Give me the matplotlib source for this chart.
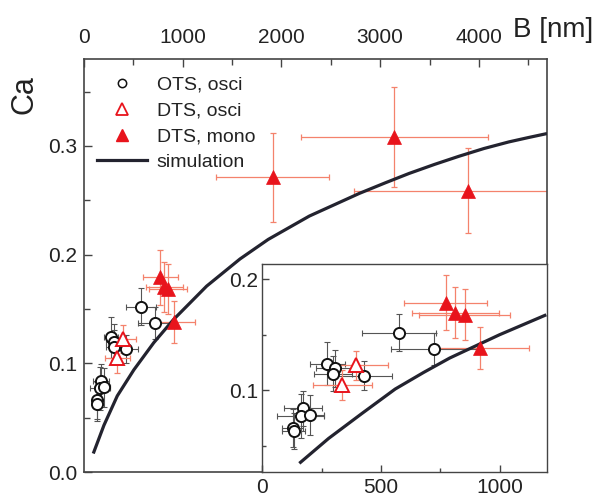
import matplotlib
matplotlib.use("Agg")
import matplotlib.pyplot as plt
from matplotlib.lines import Line2D
from matplotlib.ticker import MultipleLocator

plt.rcParams['font.family'] = ['Liberation Sans', 'DejaVu Sans']

### data (B in nm, Ca dimensionless)
ots_b = [128, 132, 170, 162, 200, 274, 306, 299, 428, 577, 723]
ots_ca = [0.066, 0.063, 0.0835, 0.077, 0.078, 0.124, 0.1196, 0.115, 0.113, 0.152, 0.137]
ots_bx = [45, 50, 80, 100, 60, 75, 80, 80, 120, 155, 180]
ots_cy = [0.017, 0.016, 0.016, 0.020, 0.018, 0.019, 0.017, 0.016, 0.013, 0.017, 0.0145]

dtso_b = [397, 338]
dtso_ca = [0.1226, 0.105]
dtso_bx = [133, 123]
dtso_cy = [0.013, 0.0135]

dtsm_b = [773, 814, 853, 916, 1912, 3145, 3892]
dtsm_ca = [0.179, 0.170, 0.168, 0.138, 0.271, 0.308, 0.259]
dtsm_bx = [175, 185, 192, 210, 570, 946, 1162]
dtsm_cy = [0.025, 0.023, 0.023, 0.019, 0.041, 0.046, 0.039]

# simulation curve as read in the main panel
sim_b = [94, 202, 337, 505, 707, 904, 1242, 1580, 1866, 2283, 2550, 2788,
         3050, 3293, 3550, 3798, 4050, 4303, 4500, 4690]
sim_ca = [0.017, 0.043, 0.070, 0.094, 0.119, 0.140, 0.171, 0.196, 0.214,
          0.2355, 0.2465, 0.2563, 0.266, 0.2747, 0.283, 0.2905, 0.2976, 0.3037,
          0.3077, 0.3114]
# simulation curve as read in the inset
ins_sim_b = [156, 279, 420, 560, 680, 790, 1000, 1197]
ins_sim_ca = [0.034, 0.0564, 0.079, 0.101, 0.116, 0.129, 0.150, 0.168]

RED = '#e8141c'
PINK = '#f4826c'
GREY = '#555555'
CURVE = '#23232f'
SPINE = '#444444'
W, H = 592, 496

fig = plt.figure(figsize=(W / 100, H / 100), dpi=100)
ax = fig.add_axes([84 / W, 1 - 472 / H, 463 / W, 413 / H])
axi = fig.add_axes([262.3 / W, 1 - 472 / H, 284.7 / W, 208 / H])


def draw(a, cb, cc):
    a.errorbar(ots_b, ots_ca, xerr=ots_bx, yerr=ots_cy, fmt='none',
               ecolor=GREY, elinewidth=0.8, capsize=2, capthick=0.8, zorder=2)
    a.errorbar(dtso_b, dtso_ca, xerr=dtso_bx, yerr=dtso_cy, fmt='none',
               ecolor=PINK, elinewidth=0.9, capsize=2, capthick=0.9, zorder=2)
    a.errorbar(dtsm_b, dtsm_ca, xerr=dtsm_bx, yerr=dtsm_cy, fmt='none',
               ecolor=PINK, elinewidth=0.9, capsize=2, capthick=0.9, zorder=2)
    a.plot(cb, cc, color=CURVE, lw=2.3, zorder=3, solid_capstyle='butt',
           solid_joinstyle='round')
    a.plot(ots_b, ots_ca, 'o', ms=8, mfc='white', mec='#111111', mew=1.4, zorder=4)
    a.plot(dtso_b, dtso_ca, '^', ms=10, mfc='white', mec=RED, mew=1.4, zorder=4)
    a.plot(dtsm_b, dtsm_ca, '^', ms=10, mfc=RED, mec=RED, mew=0.5, zorder=4)


draw(ax, sim_b, sim_ca)
draw(axi, ins_sim_b, ins_sim_ca)

### main axes
ax.set_xlim(0, 4690)
ax.set_ylim(0, 0.38)
ax.xaxis.set_major_locator(MultipleLocator(1000))
ax.xaxis.set_minor_locator(MultipleLocator(500))
ax.yaxis.set_major_locator(MultipleLocator(0.1))
ax.yaxis.set_minor_locator(MultipleLocator(0.05))
ax.yaxis.set_major_formatter(lambda v, p: f'{v:.1f}')
ax.tick_params(axis='x', which='both', direction='in', top=True, bottom=False,
               labeltop=True, labelbottom=False, colors=SPINE, labelcolor='#222222')
ax.tick_params(axis='y', which='both', direction='in', left=True, right=False,
               colors=SPINE, labelcolor='#222222')
ax.tick_params(which='major', length=6, width=1, labelsize=15)
ax.tick_params(which='minor', length=4, width=1)
ax.tick_params(axis='x', pad=9)
ax.tick_params(axis='y', pad=5)
for s in ax.spines.values():
    s.set_color(SPINE)
    s.set_linewidth(1.2)

### inset axes
axi.set_xlim(0, 1200)
axi.set_ylim(0.0262, 0.2138)
axi.xaxis.set_major_locator(MultipleLocator(500))
axi.xaxis.set_minor_locator(MultipleLocator(250))
axi.yaxis.set_major_locator(MultipleLocator(0.1))
axi.yaxis.set_minor_locator(MultipleLocator(0.05))
axi.yaxis.set_major_formatter(lambda v, p: f'{v:.1f}')
axi.tick_params(which='both', direction='in', top=False, right=False,
                colors=SPINE, labelcolor='#222222')
axi.tick_params(which='major', length=5, width=1, labelsize=15)
axi.tick_params(which='minor', length=3, width=1)
axi.tick_params(axis='x', pad=4)
axi.tick_params(axis='y', pad=3)
for s in axi.spines.values():
    s.set_color(SPINE)
    s.set_linewidth(1.0)

### legend
handles = [
    Line2D([], [], ls='none', marker='o', ms=6, mfc='white', mec='#111111', mew=1.1),
    Line2D([], [], ls='none', marker='^', ms=9, mfc='white', mec=RED, mew=1.3),
    Line2D([], [], ls='none', marker='^', ms=9, mfc=RED, mec=RED),
    Line2D([], [], color=CURVE, lw=2.3),
]
labels = ['OTS, osci', 'DTS, osci', 'DTS, mono', 'simulation']
ax.legend(handles, labels, loc='upper left', bbox_to_anchor=(0.028, 0.958),
          frameon=False, fontsize=14, borderpad=0, borderaxespad=0,
          handlelength=2.57, handletextpad=0.5, labelspacing=0.42,
          labelcolor='#222222')

### axis titles
fig.text(25 / W, 1 - 95 / H, 'Ca', rotation=90, ha='center', va='center',
         fontsize=22, color='#222222')
fig.text(513 / W, 1 - 37.3 / H, 'B [nm]', ha='left', va='baseline',
         fontsize=20, color='#222222')

fig.savefig('out.png', dpi=100)
